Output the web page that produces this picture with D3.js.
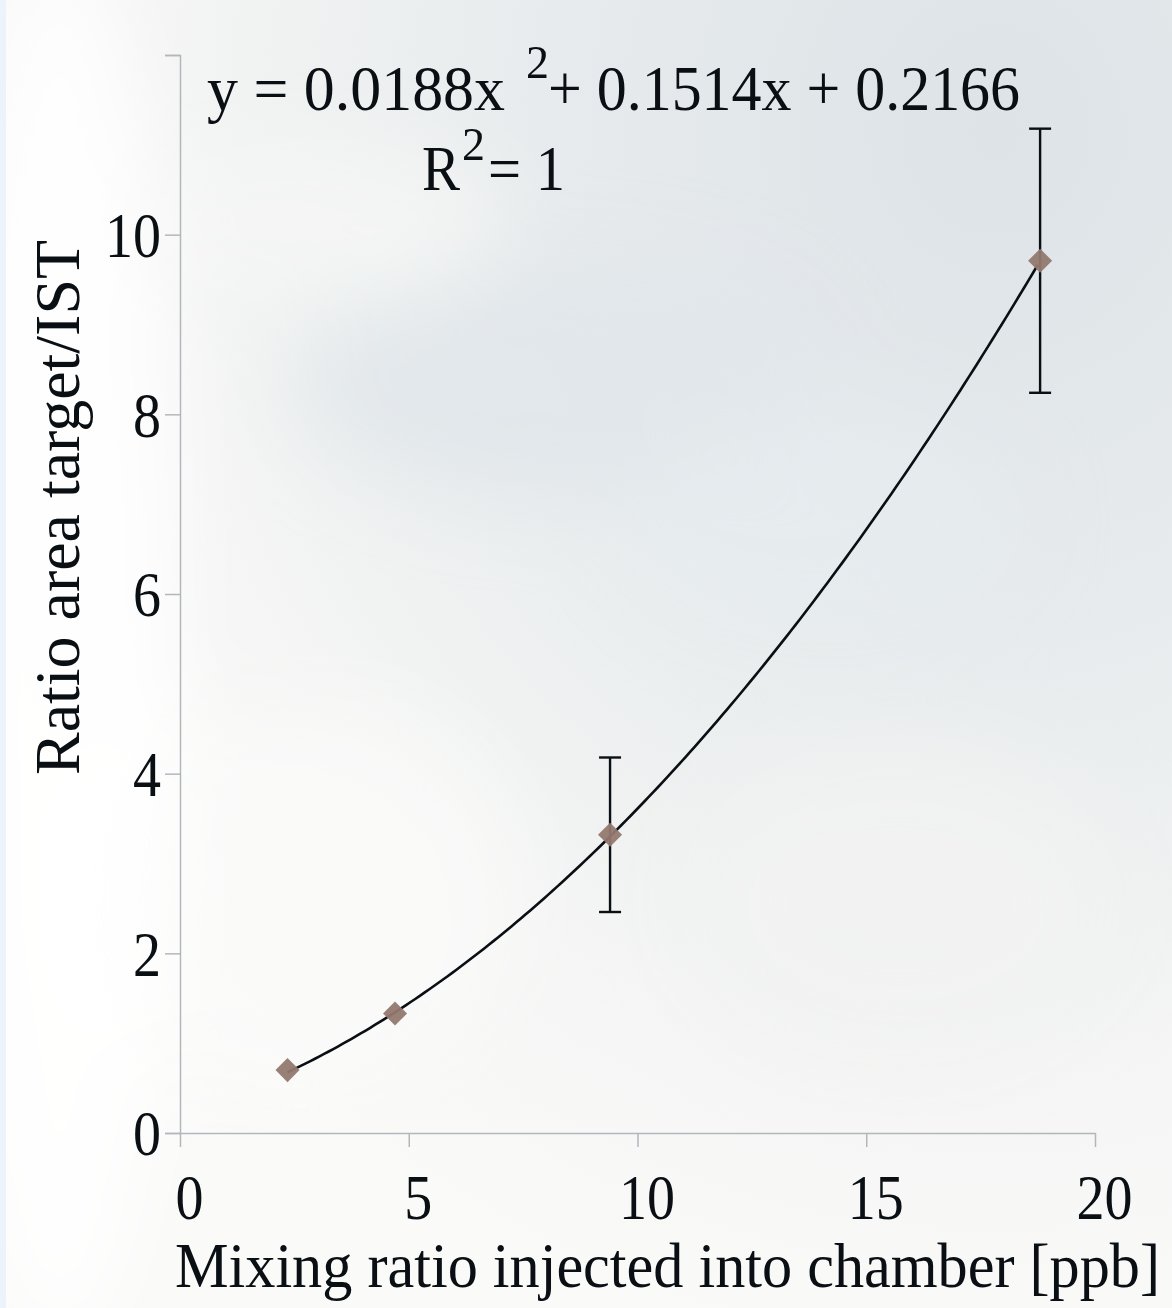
<!DOCTYPE html>
<html>
<head>
<meta charset="utf-8">
<script src="https://cdn.jsdelivr.net/npm/d3@7"></script>
<style>
  body { margin: 0; background: #ffffff; }
  svg text { font-family: "Liberation Serif", "Times New Roman", serif; fill: #0a0f14; }
</style>
</head>
<body>
<svg id="chart"></svg>
<script>
// measured points (x = injected mixing ratio, y = area ratio)
const xValues = [2.35, 4.7, 9.4, 18.8];
const yValues = [0.70, 1.33, 3.32, 9.71];
const yErrors = [0, 0, 0.86, 1.47];
// polynomial trendline coefficients (a x^2 + b x + c)
const fitCoef = [0.0188, 0.1514, 0.2166];
const xTicks = [0, 5, 10, 15, 20];
const yTicks = [0, 2, 4, 6, 8, 10];

const W = 1172, H = 1308;
const svg = d3.select("#chart").attr("width", W).attr("height", H);

// background: soft sky-ish gradient
const defs = svg.append("defs");
const bg = defs.append("radialGradient").attr("id", "bg")
  .attr("cx", "85%").attr("cy", "10%").attr("r", "95%");
bg.append("stop").attr("offset", "0%").attr("stop-color", "#dde3e7");
bg.append("stop").attr("offset", "40%").attr("stop-color", "#e7ebed");
bg.append("stop").attr("offset", "75%").attr("stop-color", "#f4f5f4");
bg.append("stop").attr("offset", "100%").attr("stop-color", "#fafaf9");
const blur = defs.append("filter").attr("id", "blur").attr("x", "-50%").attr("y", "-50%")
  .attr("width", "200%").attr("height", "200%");
blur.append("feGaussianBlur").attr("stdDeviation", 40);

svg.append("rect").attr("width", W).attr("height", H).attr("fill", "url(#bg)");
// a few faint cloud patches
const clouds = [[560, 380, 260, 120, "#e0e6ea"], [820, 520, 200, 110, "#e6ecef"], [320, 220, 180, 90, "#f5f6f5"],
  [900, 900, 220, 160, "#f1f2f1"], [300, 900, 220, 200, "#fafaf9"], [60, 650, 120, 700, "#ffffff"]];
svg.append("g").attr("filter", "url(#blur)").selectAll("ellipse").data(clouds).join("ellipse")
  .attr("cx", d => d[0]).attr("cy", d => d[1]).attr("rx", d => d[2]).attr("ry", d => d[3])
  .attr("fill", d => d[4]).attr("opacity", 0.85);
svg.append("rect").attr("width", 6).attr("height", H).attr("fill", "#edf3fb");

const margin = { left: 180, right: 1095, top: 55, bottom: 1133 };
const x = d3.scaleLinear().domain([0, 20]).range([margin.left, margin.right]);
const y = d3.scaleLinear().domain([0, 12]).range([margin.bottom, margin.top]);

const axisColor = "#b3b7bb";
const ink = "#0a0f14";
const digitW = 28; // condensed digit advance

// y axis
const yAxis = svg.append("g").attr("transform", `translate(${margin.left},0)`)
  .call(d3.axisLeft(y).tickValues([0, 2, 4, 6, 8, 10, 12]).tickSize(15).tickPadding(4)
    .tickFormat(d => yTicks.includes(d) ? d : ""));
yAxis.select(".domain").attr("stroke", axisColor).attr("stroke-width", 1.5);
yAxis.selectAll(".tick line").attr("stroke", axisColor).attr("stroke-width", 1.5);
yAxis.selectAll(".tick text").attr("font-size", 64).attr("fill", ink)
  .attr("font-family", "Liberation Serif").attr("dy", "0.34em")
  .attr("textLength", d => yTicks.includes(d) ? String(d).length * digitW : null)
  .attr("lengthAdjust", "spacingAndGlyphs");

// x axis
const xAxis = svg.append("g").attr("transform", `translate(0,${margin.bottom})`)
  .call(d3.axisBottom(x).tickValues(xTicks).tickSize(14).tickPadding(30).tickSizeOuter(0));
xAxis.select(".domain").attr("stroke", axisColor).attr("stroke-width", 1.5);
xAxis.selectAll(".tick line").attr("stroke", axisColor).attr("stroke-width", 1.5);
xAxis.selectAll(".tick text").attr("font-size", 64).attr("fill", ink)
  .attr("font-family", "Liberation Serif").attr("dx", 9).attr("dy", "0.66em")
  .attr("textLength", d => String(d).length * digitW)
  .attr("lengthAdjust", "spacingAndGlyphs");

// trendline
const fit = v => fitCoef[0] * v * v + fitCoef[1] * v + fitCoef[2];
const trendX = d3.range(xValues[0], xValues[xValues.length - 1] + 0.001, 0.1);
svg.append("path")
  .datum(trendX)
  .attr("fill", "none").attr("stroke", ink).attr("stroke-width", 2.6)
  .attr("d", d3.line().x(d => x(d)).y(d => y(fit(d))));

// error bars
const pts = xValues.map((v, i) => ({ x: v, y: yValues[i], e: yErrors[i] }));
const eb = svg.append("g").selectAll("g").data(pts.filter(d => d.e > 0)).join("g");
eb.append("line").attr("x1", d => x(d.x)).attr("x2", d => x(d.x))
  .attr("y1", d => y(d.y + d.e)).attr("y2", d => y(d.y - d.e))
  .attr("stroke", ink).attr("stroke-width", 2.4);
eb.selectAll("line.cap").data(d => [d.y + d.e, d.y - d.e].map(v => ({ x: d.x, v }))).join("line")
  .attr("class", "cap")
  .attr("x1", d => x(d.x) - 11).attr("x2", d => x(d.x) + 11)
  .attr("y1", d => y(d.v)).attr("y2", d => y(d.v))
  .attr("stroke", ink).attr("stroke-width", 2.4);

// markers
svg.append("g").selectAll("path").data(pts).join("path")
  .attr("d", d3.symbol(d3.symbolSquare, 17 * 17))
  .attr("transform", d => `translate(${x(d.x)},${y(d.y)}) rotate(45)`)
  .attr("fill", "#94796f").attr("opacity", 0.95);

// equation label
const eq = svg.append("g");
eq.append("text").attr("x", 207).attr("y", 110).attr("font-size", 64)
  .attr("textLength", 298).attr("lengthAdjust", "spacingAndGlyphs").text("y = 0.0188x");
eq.append("text").attr("x", 526).attr("y", 78).attr("font-size", 46).text("2");
eq.append("text").attr("x", 548).attr("y", 110).attr("font-size", 64)
  .attr("textLength", 472).attr("lengthAdjust", "spacingAndGlyphs").text("+ 0.1514x + 0.2166");
eq.append("text").attr("x", 422).attr("y", 190).attr("font-size", 64)
  .attr("textLength", 38).attr("lengthAdjust", "spacingAndGlyphs").text("R");
eq.append("text").attr("x", 462).attr("y", 160).attr("font-size", 46).text("2");
eq.append("text").attr("x", 488).attr("y", 190).attr("font-size", 64)
  .attr("textLength", 77).attr("lengthAdjust", "spacingAndGlyphs").text("= 1");

// axis titles
svg.append("text").attr("x", 175).attr("y", 1287).attr("font-size", 64)
  .attr("textLength", 985).attr("lengthAdjust", "spacingAndGlyphs")
  .text("Mixing ratio injected into chamber [ppb]");
svg.append("text").attr("transform", "translate(79,775) rotate(-90)").attr("font-size", 64)
  .attr("textLength", 535).attr("lengthAdjust", "spacingAndGlyphs")
  .text("Ratio area target/IST");
</script>
</body>
</html>
